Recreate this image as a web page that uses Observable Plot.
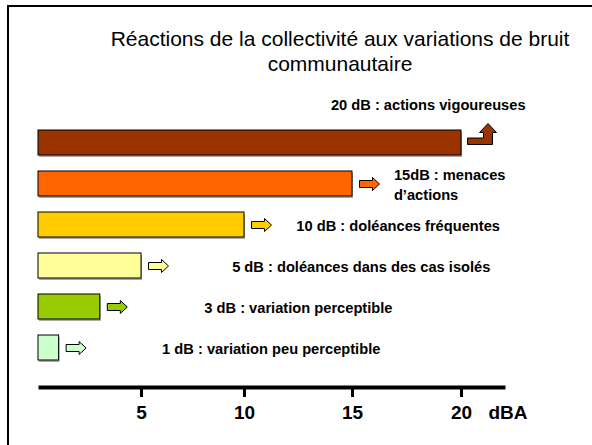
<!DOCTYPE html>
<html><head><meta charset="utf-8">
<script src="https://cdn.jsdelivr.net/npm/d3@7"></script>
<script src="https://cdn.jsdelivr.net/npm/@observablehq/plot@0.6"></script>
<style>
html,body{margin:0;padding:0;background:#fff;}
#wrap{position:relative;width:592px;height:445px;overflow:hidden;font-family:"Liberation Sans",Arial,sans-serif;}
#chart{position:absolute;left:0;top:0;}
#title{position:absolute;left:100px;width:480px;top:26px;text-align:center;font-size:21px;line-height:25px;white-space:nowrap;color:#000;}
#box{position:absolute;left:7px;top:5px;right:-10px;bottom:-10px;border-left:2px solid #000;border-top:2px solid #000;pointer-events:none;}
</style></head>
<body><div id="wrap"><div id="chart"></div><div id="title">Réactions de la collectivité aux variations de bruit<br>communautaire</div><div id="box"></div></div>
<script>
// ---- data ----
const levels = [20, 15, 10, 5, 3, 1];
const reactions = [
  "20 dB : actions vigoureuses",
  "15dB : menaces\nd’actions",
  "10 dB : doléances fréquentes",
  "5 dB : doléances dans des cas isolés",
  "3 dB : variation perceptible",
  "1 dB : variation peu perceptible"
];
const tickValues = [5, 10, 15, 20];
const unit = "dBA";

// ---- annotation anchors (dB value where each caption starts) ----
const labelAt = [14.0, 16.9, 12.4, 9.4, 8.05, 6.0];

const rows = levels.map((v, i) => ({level: v, key: String(v), label: reactions[i], at: labelAt[i]}));

// ---- styles ----
const palette = ["#993300", "#FF6600", "#FFCC00", "#FFFF99", "#99CC00", "#CCFFCC"];
const FONT = "Liberation Sans, Arial, sans-serif";

// block arrow glyphs (drawn relative to the bar end)
const rightArrow = {draw(c) {
  c.moveTo(7, -3.5); c.lineTo(20, -3.5); c.lineTo(20, -6.5); c.lineTo(27, 0);
  c.lineTo(20, 6.5); c.lineTo(20, 3.5); c.lineTo(7, 3.5); c.closePath();
}};
const bentUpArrow = {draw(c) {
  c.moveTo(6, -5); c.lineTo(22, -5); c.lineTo(22, -10.5); c.lineTo(18, -10.5);
  c.lineTo(26.5, -19.5); c.lineTo(35, -10.5); c.lineTo(31, -10.5); c.lineTo(31, 1.5);
  c.lineTo(6, 1.5); c.closePath();
}};

const top20 = rows.filter(d => d.level === 20);
const others = rows.filter(d => d.level !== 20);

const chart = Plot.plot({
  width: 592,
  height: 445,
  marginLeft: 40,
  marginRight: 89,
  marginTop: 100,
  marginBottom: 58,
  style: {fontFamily: FONT, background: "transparent", overflow: "visible", color: "#000"},
  x: {type: "linear", domain: [0, 5, 10, 15, 20], range: [38, 141, 244, 352, 461]},
  y: {type: "band", domain: levels.map(String), range: [121.4, 368.6], paddingInner: 0.39, paddingOuter: 0.195, axis: null},
  color: {type: "ordinal", domain: levels, range: palette},
  marks: [
    Plot.barX(rows, {x: "level", y: "key", fill: "#a8a8a8", dx: 1, dy: 2}),
    Plot.barX(rows, {x: "level", y: "key", fill: "level", stroke: "#000", strokeWidth: 1}),
    Plot.dot(others, {x: "level", y: "key", symbol: rightArrow, r: 10, fill: "level", stroke: "#000", strokeWidth: 1}),
    Plot.dot(top20, {x: "level", y: "key", symbol: bentUpArrow, r: 10, fill: "level", stroke: "#000", strokeWidth: 1}),
    Plot.text(others, {x: "at", y: "key", text: "label", textAnchor: "start", fontSize: 14.67, fontWeight: "bold", lineHeight: 1.36, fontFamily: FONT, fill: "#000"}),
    Plot.text(top20, {x: "at", y: "key", text: "label", textAnchor: "start", dy: -38, fontSize: 14.67, fontWeight: "bold", fontFamily: FONT, fill: "#000"}),
    Plot.frame({anchor: "bottom", stroke: "#000", strokeWidth: 4}),
    Plot.axisX(tickValues, {anchor: "bottom", tickSize: 10, tickPadding: 8, strokeWidth: 3, fontSize: 19, fontWeight: "bold", label: null, fill: "#000", stroke: "#000", fontFamily: FONT}),
    Plot.text([unit], {frameAnchor: "bottom-right", text: d => d, textAnchor: "start", lineAnchor: "top", dx: -15, dy: 18, fontSize: 19, fontWeight: "bold", fontFamily: FONT, fill: "#000"})
  ]
});
document.getElementById("chart").appendChild(chart);
</script></body></html>
